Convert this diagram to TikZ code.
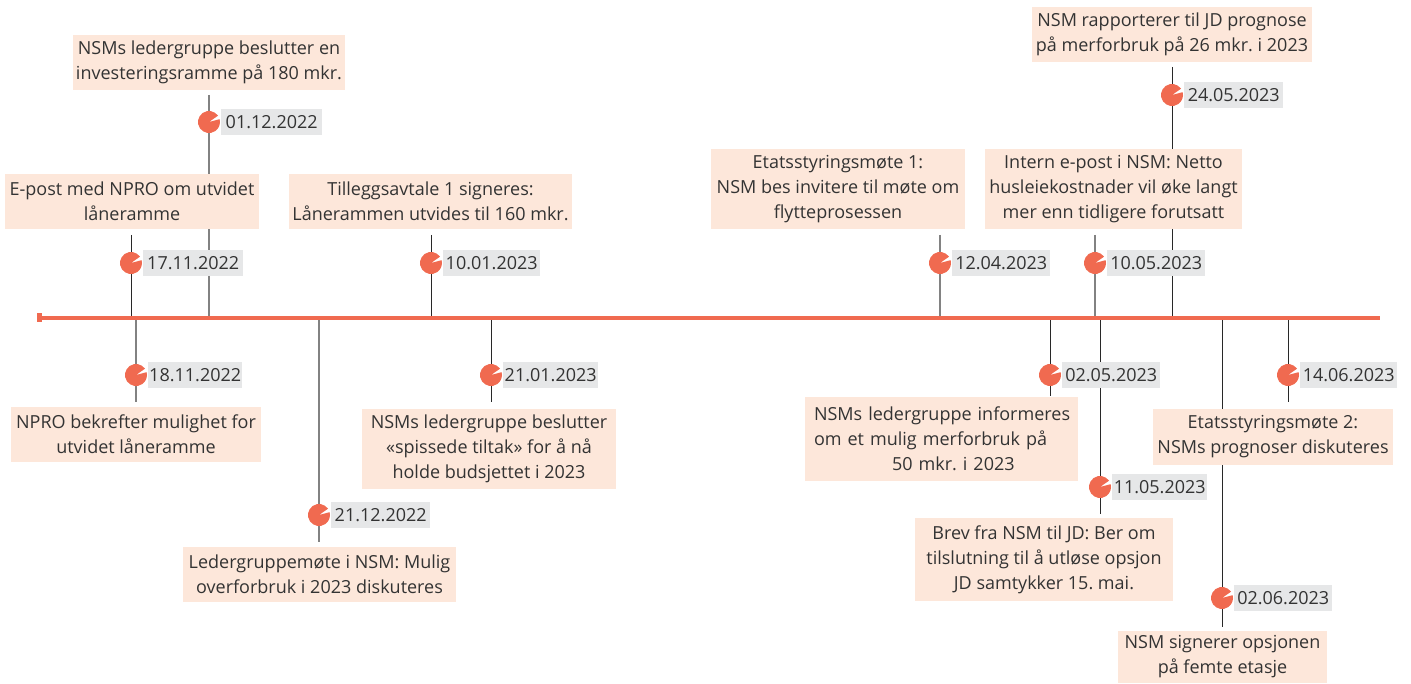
\documentclass[tikz,border=0pt]{standalone}
\usepackage{fontspec}
\setmainfont{Open Sans}
\frenchspacing
\definecolor{boxfill}{RGB}{253,231,218}
\definecolor{datefill}{RGB}{230,231,232}
\definecolor{tline}{RGB}{240,106,80}
\definecolor{txt}{RGB}{51,51,51}
\definecolor{stemgray}{RGB}{130,130,130}
\definecolor{stemdark}{RGB}{40,40,40}
\tikzset{
  evbox/.style={fill=boxfill, text=txt, align=center, inner sep=0pt,
    font=\fontsize{18}{25}\selectfont},
  datebox/.style={fill=datefill, text=txt, inner sep=0pt, anchor=west,
    minimum height=26pt, text width=#1, align=center,
    font=\fontsize{18}{20}\selectfont},
  stemg/.style={draw=stemgray, line width=1.6pt},
  stemd/.style={draw=stemdark, line width=1pt},
}
\newcommand{\evdot}[1]{%
  \fill[tline] (#1) -- ++(35:11pt) arc (35:375:11pt) -- cycle;}
\begin{document}
\begin{tikzpicture}[x=1pt,y=-1pt]
\useasboundingbox (0,0) rectangle (1411,684);

% ---- coordinates on the timeline
\foreach \n/\x in {t1711/131,t0112/209,t1001/431,t1204/940,t1005/1095,t2405/1172,
  t1811/136,t2112/319,t2101/491,t0205/1050,t1105/1100,t0206/1222,t1406/1288}
  {\coordinate (\n) at (\x,318);}

% ---- event boxes (above)
\node[evbox, minimum width=272pt, minimum height=55pt] (a0112) at (209,62.5)
  {NSMs ledergruppe beslutter en\\investeringsramme på 180 mkr.};
\node[evbox, minimum width=280pt, minimum height=55pt] (a2405) at (1172,34.5)
  {NSM rapporterer til JD prognose\\på merforbruk på 26 mkr. i 2023};

% ---- stems behind lower boxes
\coordinate (s0112) at (209,95);
\coordinate (s2405) at (1172,67);
\draw[stemg] (s0112) -- (t0112);
\draw[stemd] (s2405) -- (t2405);

\node[evbox, minimum width=254pt, minimum height=55pt] (a1711) at (132,201.5)
  {E-post med NPRO om utvidet\\låneramme};
\node[evbox, minimum width=283pt, minimum height=55pt] (a1001) at (430.5,201.5)
  {Tilleggsavtale 1 signeres:\\Lånerammen utvides til 160 mkr.};
\node[evbox, minimum width=254pt, minimum height=80pt] (a1204) at (838,189)
  {Etatsstyringsmøte 1:\\NSM bes invitere til møte om\\flytteprosessen};
\node[evbox, minimum width=257pt, minimum height=80pt] (a1005) at (1113.5,189)
  {Intern e-post i NSM: Netto\\husleiekostnader vil øke langt\\mer enn tidligere forutsatt};

% ---- stems of other above-events
\coordinate (s1711) at (131,235);
\coordinate (s1001) at (431,235);
\coordinate (s1204) at (940,235);
\coordinate (s1005) at (1095,235);
\draw[stemd] (s1711) -- (t1711);
\draw[stemd] (s1001) -- (t1001);
\draw[stemg] (s1204) -- (t1204);
\draw[stemg] (s1005) -- (t1005);

% ---- stems below
\coordinate (s1811) at (136,402);
\coordinate (s2112) at (319,542);
\coordinate (s2101) at (491,402);
\coordinate (s0205) at (1050,396);
\coordinate (s1105) at (1100,514);
\coordinate (s0206) at (1222,627);
\coordinate (s1406) at (1288,402);
\draw[stemg] (t1811) -- (s1811);
\draw[stemg] (t2112) -- (s2112);
\draw[stemd] (t2101) -- (s2101);
\draw[stemd] (t0205) -- (s0205);
\draw[stemd] (t1105) -- (s1105);
\draw[stemd] (t0206) -- (s0206);
\draw[stemd] (t1406) -- (s1406);

% ---- event boxes (below)
\node[evbox, minimum width=250pt, minimum height=55pt] (b1811) at (136,434.5)
  {NPRO bekrefter mulighet for\\utvidet låneramme};
\node[evbox, minimum width=273pt, minimum height=55pt] (b2112) at (319.5,574.5)
  {Ledergruppemøte i NSM: Mulig\\overforbruk i 2023 diskuteres};
\node[evbox, minimum width=254pt, minimum height=80pt] (b2101) at (489,449)
  {NSMs ledergruppe beslutter\\«spissede tiltak» for å nå\\holde budsjettet i 2023};
\node[evbox, inner xsep=9pt, text width=255pt, minimum height=84pt, align=left] (b0205) at (941.5,439)
  {\mbox{NSMs ledergruppe informeres}\\om et mulig merforbruk på\\\hspace*{78pt}50 mkr. i 2023};
\node[evbox, minimum width=258pt, minimum height=83pt] (b1105) at (1044,559.5)
  {Brev fra NSM til JD: Ber om\\tilslutning til å utløse opsjon\\JD samtykker 15. mai.};
\node[evbox, minimum width=209pt, minimum height=52pt] (b0206) at (1222.5,657)
  {NSM signerer opsjonen\\på femte etasje};
\node[evbox, minimum width=240pt, minimum height=56pt] (b1406) at (1273,437)
  {Etatsstyringsmøte 2:\\NSMs prognoser diskuteres};

% ---- main timeline
\coordinate (lstart) at (40,318);
\coordinate (lend) at (1380,318);
\draw[tline, line width=4.5pt] (lstart) -- (lend);
\fill[tline] (37,313.5) rectangle (42,322.5);

% ---- dots and dates
\foreach \n/\x/\y/\d/\w in {
  d0112/209/122/01.12.2022/101pt,
  d1711/131/263/17.11.2022/100pt,
  d1001/431/263/10.01.2023/97pt,
  d1204/940/263/12.04.2023/98pt,
  d1005/1095/263/10.05.2023/98pt,
  d2405/1172/95/24.05.2023/99pt,
  d1811/136/375/18.11.2022/94pt,
  d2112/319/515/21.12.2022/99pt,
  d2101/491/375/21.01.2023/95pt,
  d0205/1050/375/02.05.2023/98pt,
  d1105/1100/487/11.05.2023/95pt,
  d0206/1222/598/02.06.2023/98pt,
  d1406/1288/375/14.06.2023/97pt}
{
  \coordinate (c\n) at (\x,\y);
  \node[datebox=\w] (\n) at ([xshift=12pt]c\n) {\d};
  \evdot{c\n}
}
\end{tikzpicture}
\end{document}
